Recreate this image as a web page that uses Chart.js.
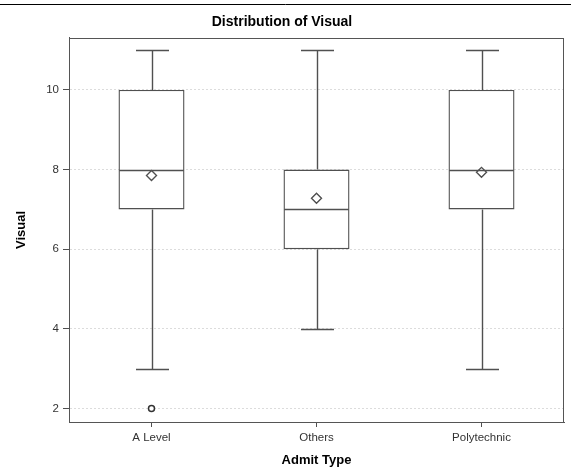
<!DOCTYPE html>
<html>
<head>
<meta charset="utf-8">
<script src="https://cdn.jsdelivr.net/npm/chart.js@4/dist/chart.umd.min.js"></script>
<style>
	html, body { margin: 0; padding: 0; background: #fff; }
	#wrap { width: 571px; height: 476px; position: relative; }
</style>
</head>
<body>
<div id="wrap"><canvas id="myChart" width="571" height="476"></canvas></div>
<script>
// Data
var categories = ['A Level', 'Others', 'Polytechnic'];
var mins       = [3, 4, 3];
var q1s        = [7, 6, 7];
var medians    = [8, 7, 8];
var q3s        = [10, 8, 10];
var maxs       = [11, 11, 11];
var means      = [7.85, 7.28, 7.93];
var outliers   = [2, null, null];
var yTicks     = [2, 4, 6, 8, 10];

var lineColor = '#505050';
var font      = '"Liberation Sans", Arial, sans-serif';

// Whiskers, caps, medians and the frame
var boxPlugin = {
	id : 'boxParts',
	beforeDraw : (chart) => {
		var ctx = chart.ctx;
		ctx.save();
		ctx.strokeStyle = '#000';
		ctx.lineWidth   = 1;
		ctx.beginPath();
		ctx.moveTo(0, 4.5);
		ctx.lineTo(chart.width, 4.5);
		ctx.stroke();
		ctx.restore();
	},
	afterDatasetsDraw : (chart) => {
		var ctx  = chart.ctx;
		var xs   = chart.scales.x;
		var ys   = chart.scales.y;
		var bars = chart.getDatasetMeta(0).data;
		ctx.save();
		ctx.strokeStyle = lineColor;
		ctx.lineWidth   = 1.4;
		categories.forEach((c, i) => {
			var x    = Math.round(xs.getPixelForValue(i)) + 0.5;
			var bx   = bars[i].x;
			var half = bars[i].width / 2;
			var cap  = half / 2;
			var yMin = Math.round(ys.getPixelForValue(mins[i])) + 0.5;
			var yQ1  = ys.getPixelForValue(q1s[i]);
			var yQ3  = ys.getPixelForValue(q3s[i]);
			var yMax = Math.round(ys.getPixelForValue(maxs[i])) + 0.5;
			var yMed = Math.round(ys.getPixelForValue(medians[i])) + 0.5;
			ctx.beginPath();
			ctx.moveTo(x, yQ1); ctx.lineTo(x, yMin);
			ctx.moveTo(x - cap, yMin); ctx.lineTo(x + cap, yMin);
			ctx.moveTo(x, yQ3); ctx.lineTo(x, yMax);
			ctx.moveTo(x - cap, yMax); ctx.lineTo(x + cap, yMax);
			ctx.moveTo(bx - half + 0.7, yMed); ctx.lineTo(bx + half - 0.7, yMed);
			ctx.stroke();
		});
		var a = chart.chartArea;
		ctx.strokeStyle = '#555';
		ctx.lineWidth   = 1;
		ctx.strokeRect(Math.round(a.left) + 0.5, Math.round(a.top) + 0.5,
			Math.round(a.right - a.left) - 1, Math.round(a.bottom - a.top));
		ctx.restore();
	}
};

var ctx = document.getElementById('myChart');
var myChart = new Chart(ctx, {
	type: 'bar',
	data: {
		labels: categories,
		datasets: [{
			label              : 'Box',
			data               : q1s.map((q, i) => [q, q3s[i]]),
			backgroundColor    : '#fff',
			borderColor        : lineColor,
			borderWidth        : 1.4,
			borderSkipped      : false,
			categoryPercentage : 0.4,
			barPercentage      : 1,
			order              : 2
		},{
			type                 : 'line',
			label                : 'Mean',
			data                 : means,
			showLine             : false,
			pointStyle           : 'rectRot',
			pointRadius          : 5,
			pointBackgroundColor : '#fff',
			pointBorderColor     : lineColor,
			pointBorderWidth     : 1.4,
			order                : 1
		},{
			type                 : 'line',
			label                : 'Outlier',
			data                 : outliers,
			showLine             : false,
			pointStyle           : 'circle',
			pointRadius          : 3,
			pointBackgroundColor : '#fff',
			pointBorderColor     : '#333',
			pointBorderWidth     : 1.5,
			order                : 1
		}]
	},
	options: {
		responsive : false,
		animation  : false,
		layout     : { padding: { left: 0, right: 7, top: 0, bottom: 0 } },
		plugins    : {
			legend  : { display: false },
			tooltip : { enabled: false },
			title   : {
				display : true,
				text    : 'Distribution of Visual',
				color   : '#000',
				font    : { family: font, size: 14, weight: 'bold' },
				padding : { top: 14, bottom: 7 }
			}
		},
		scales : {
			x : {
				offset : true,
				grid   : { drawOnChartArea: false, offset: false, tickLength: 5, tickColor: lineColor },
				border : { color: '#555' },
				ticks  : { color: '#333', padding: 4, font: { family: font, size: 11.5 } },
				title  : {
					display : true,
					text    : 'Admit Type',
					color   : '#000',
					font    : { family: font, size: 13, weight: 'bold' },
					padding : { top: 0, bottom: 8 }
				},
				afterFit : (scale) => { scale.height = 54; }
			},
			y : {
				min    : 1.66,
				max    : 11.31,
				grid   : { color: '#dcdcdc', tickLength: 6, tickColor: lineColor },
				border : { color: '#555', dash: [2, 2] },
				ticks  : { color: '#333', padding: 4, font: { family: font, size: 11.5 } },
				afterBuildTicks : (scale) => { scale.ticks = yTicks.map((v) => ({ value: v })); },
				title  : {
					display : true,
					text    : 'Visual',
					color   : '#000',
					font    : { family: font, size: 13, weight: 'bold' },
					padding : { top: 14, bottom: 0 }
				},
				afterFit : (scale) => { scale.width = 69; }
			}
		}
	},
	plugins : [boxPlugin]
});
</script>
</body>
</html>
